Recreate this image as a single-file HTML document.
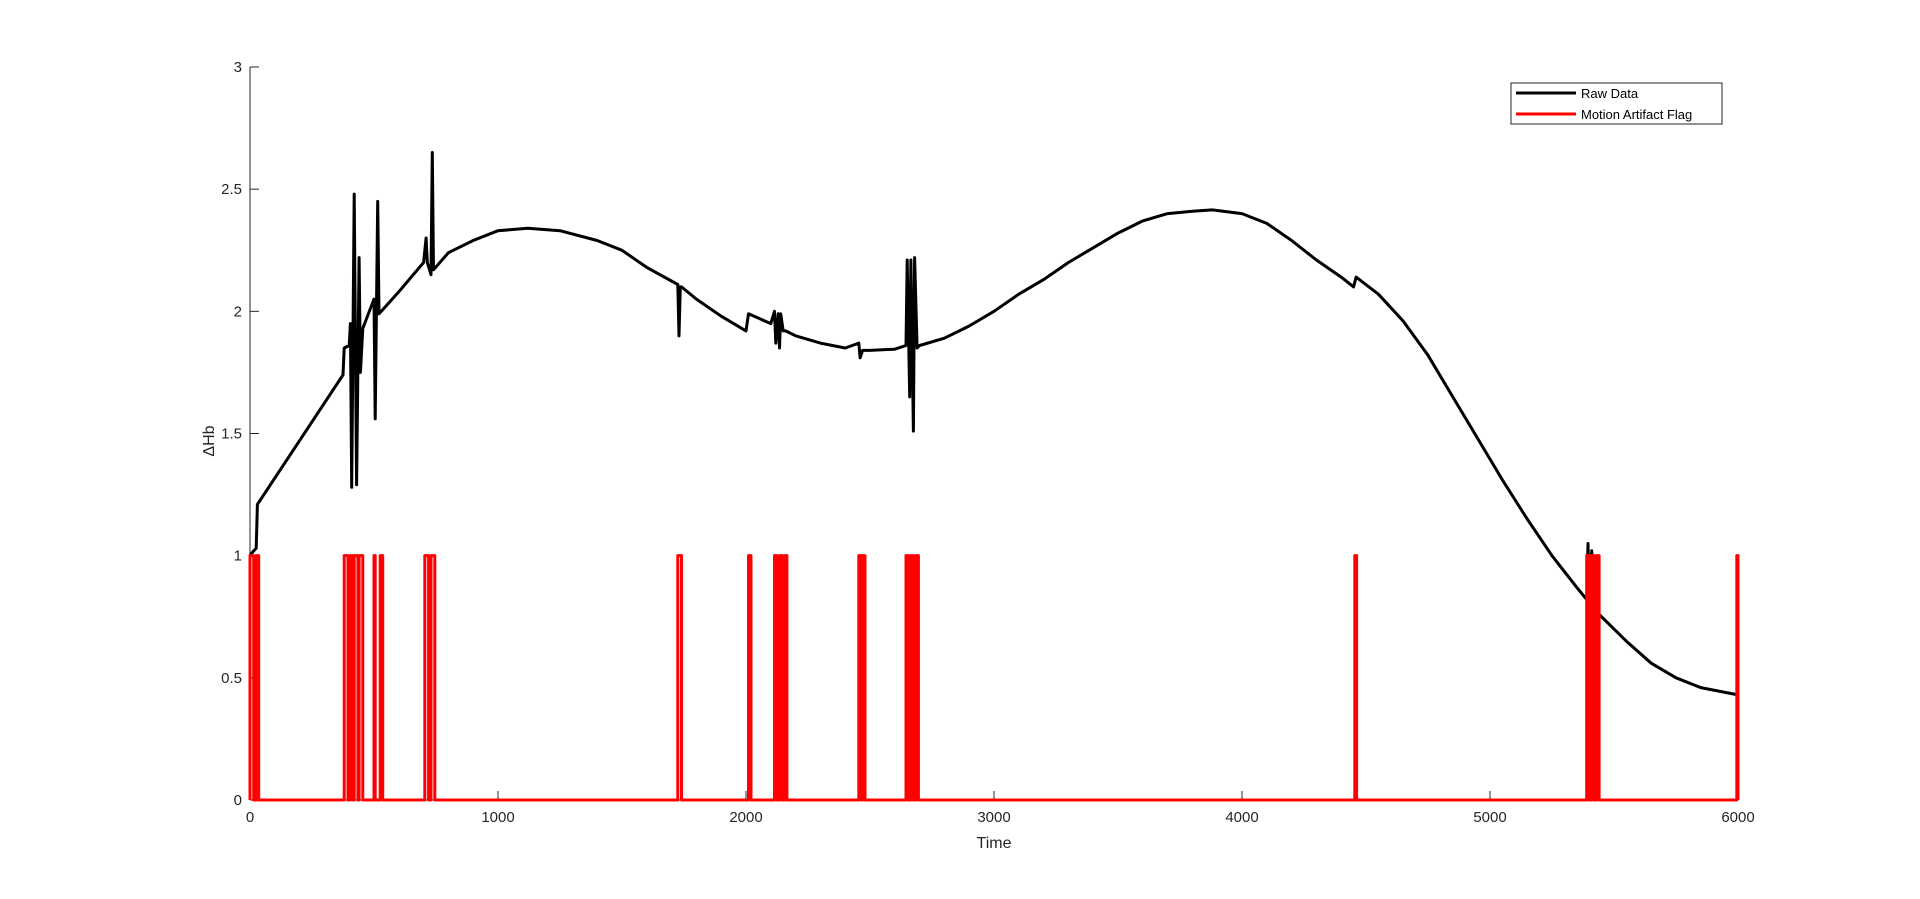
<!DOCTYPE html>
<html><head><meta charset="utf-8"><style>
html,body{margin:0;padding:0;background:#fff;}
svg{display:block;font-family:"Liberation Sans","Noto Sans CJK JP",sans-serif;}
</style></head><body>
<svg id="chart" width="1920" height="899" viewBox="0 0 1920 899">
<g id="axes"></g>
<g id="plot"></g>
<text x="994" y="848" font-size="16" text-anchor="middle" fill="#262626">Time</text>
<text transform="translate(214,441) rotate(-90)" font-size="16" text-anchor="middle" fill="#262626">ΔHb</text>
<g>
<rect x="1511" y="83" width="211" height="41" fill="#fff" stroke="#262626" stroke-width="1"/>
<line x1="1516" y1="93" x2="1576" y2="93" stroke="#000" stroke-width="3"/>
<text x="1581" y="98" font-size="13" fill="#000">Raw Data</text>
<line x1="1516" y1="114" x2="1576" y2="114" stroke="#f00" stroke-width="3"/>
<text x="1581" y="119" font-size="13" fill="#000">Motion Artifact Flag</text>
</g>
</svg>
<script>
const rawTimes = [0,15,25,30,375,380,400,405,410,420,430,440,445,455,500,505,515,520,600,700,710,715,730,735,740,800,900,1000,1120,1250,1400,1500,1600,1725,1730,1735,1740,1800,1900,2000,2010,2100,2115,2120,2130,2135,2140,2150,2160,2200,2300,2400,2455,2460,2470,2480,2500,2600,2645,2650,2660,2665,2675,2680,2690,2700,2800,2900,3000,3100,3200,3300,3400,3500,3600,3700,3800,3880,4000,4100,4200,4300,4400,4450,4460,4550,4650,4750,4850,4950,5050,5150,5250,5350,5390,5395,5400,5410,5420,5430,5440,5450,5550,5650,5750,5850,6000];
const rawValues = [1.0,1.02,1.03,1.21,1.74,1.85,1.86,1.95,1.28,2.48,1.29,2.22,1.75,1.93,2.05,1.56,2.45,1.99,2.08,2.2,2.3,2.2,2.15,2.65,2.17,2.24,2.29,2.33,2.34,2.33,2.29,2.25,2.18,2.11,1.9,2.1,2.1,2.05,1.98,1.92,1.99,1.95,2.0,1.87,1.99,1.85,1.99,1.92,1.92,1.9,1.87,1.85,1.87,1.81,1.84,1.84,1.84,1.845,1.86,2.21,1.65,2.21,1.51,2.22,1.85,1.86,1.89,1.94,2.0,2.07,2.13,2.2,2.26,2.32,2.37,2.4,2.41,2.415,2.4,2.36,2.29,2.21,2.14,2.1,2.14,2.07,1.96,1.82,1.65,1.48,1.31,1.15,1.0,0.87,0.82,1.05,0.81,1.02,0.78,0.77,0.76,0.75,0.65,0.56,0.5,0.46,0.43];
const flagStarts = [0,25,380,405,420,440,500,525,705,730,1725,2010,2115,2135,2155,2455,2470,2645,2665,2685,4455,5390,5410,5430,5995];
const flagEnds   = [15,35,395,415,435,455,505,535,720,745,1740,2020,2125,2145,2165,2465,2480,2655,2675,2695,4462,5400,5420,5440,6000];
const xTicks = [0,1000,2000,3000,4000,5000,6000];
const yTicks = [0,0.5,1,1.5,2,2.5,3];
const yTickLabels = ["0","0.5","1","1.5","2","2.5","3"];

const X0=250,X1=1738,Y0=800,Y3=67;
const xs=t=>X0+(t/6000)*(X1-X0);
const ys=v=>Y0-(v/3)*(Y0-Y3);
const NS="http://www.w3.org/2000/svg";
const axes=document.getElementById('axes');
const plot=document.getElementById('plot');
function mk(tag,attrs,parent){const e=document.createElementNS(NS,tag);for(const k in attrs)e.setAttribute(k,attrs[k]);parent.appendChild(e);return e;}

let el=mk('line',{x1:X0,y1:Y3,x2:X0,y2:Y0,stroke:'#262626','stroke-width':1},axes);


el=mk('line',{x1:X0,y1:Y0,x2:X1,y2:Y0,stroke:'#262626','stroke-width':1},axes);



xTicks.forEach(t=>{
  const x=xs(t);
  let tk=mk('line',{x1:x,y1:Y0,x2:x,y2:Y0-9,stroke:'#262626','stroke-width':1},axes);
  
  
  let tx=mk('text',{x:x,y:Y0+22,'font-size':15,'text-anchor':'middle',fill:'#262626'},axes);
  tx.textContent=String(t);
  
  
});
yTicks.forEach((v,i)=>{
  const y=ys(v);
  let tk=mk('line',{x1:X0,y1:y,x2:X0+9,y2:y,stroke:'#262626','stroke-width':1},axes);
  
  
  let tx=mk('text',{x:X0-8,y:y+5,'font-size':15,'text-anchor':'end',fill:'#262626'},axes);
  tx.textContent=yTickLabels[i];
  
  
});

let d='';
rawTimes.forEach((t,i)=>{d+=(i?'L':'M')+xs(t).toFixed(1)+' '+ys(rawValues[i]).toFixed(1);});
let raw=mk('path',{d:d,fill:'none',stroke:'#000','stroke-width':3,'stroke-linejoin':'round'},plot);



let fd='M'+xs(0)+' '+ys(0);
flagStarts.forEach((s,i)=>{
  const e=flagEnds[i];
  fd+='L'+xs(s).toFixed(1)+' '+ys(0)+'L'+xs(s).toFixed(1)+' '+ys(1)+'L'+xs(e).toFixed(1)+' '+ys(1)+'L'+xs(e).toFixed(1)+' '+ys(0);
});
fd+='L'+xs(6000)+' '+ys(0);
let flag=mk('path',{d:fd,fill:'none',stroke:'#f00','stroke-width':3,'stroke-linejoin':'round'},plot);


</script>
</body></html>
